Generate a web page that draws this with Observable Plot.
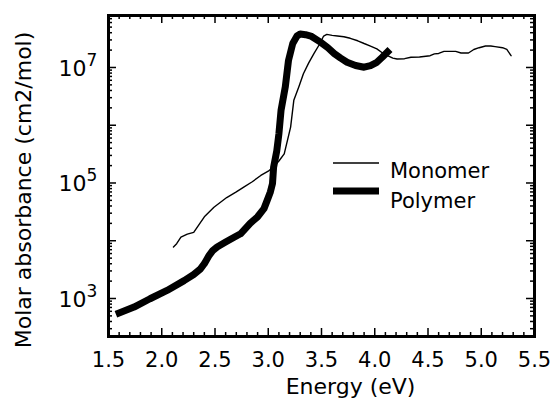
<!DOCTYPE html>
<html>
<head>
<meta charset="utf-8">
<script src="https://cdn.jsdelivr.net/npm/d3@7"></script>
<script src="https://cdn.jsdelivr.net/npm/@observablehq/plot@0.6"></script>
<style>
  body { margin: 0; background: #fff; }
  #chart { position: relative; width: 559px; height: 399px; font-family: "DejaVu Sans", sans-serif; }
  #chart svg { display: block; }
  #legend { position: absolute; left: 0; top: 0; pointer-events: none; }
</style>
</head>
<body>
<div id="chart"></div>
<script>
// Absorption spectra: energy (eV) against molar absorbance (cm2/mol)
const monomerEnergy = [2.11, 2.14, 2.18, 2.24, 2.30, 2.35, 2.40, 2.49, 2.61, 2.70, 2.77, 2.85, 2.93, 3.00, 3.05, 3.10, 3.15, 3.21, 3.24, 3.29, 3.33, 3.38, 3.43, 3.48, 3.52, 3.55, 3.60, 3.65, 3.71, 3.77, 3.84, 3.90, 3.96, 4.02, 4.07, 4.12, 4.17, 4.21, 4.28, 4.34, 4.42, 4.52, 4.56, 4.60, 4.65, 4.70, 4.76, 4.81, 4.88, 4.93, 4.98, 5.04, 5.09, 5.13, 5.20, 5.24, 5.28];
const monomerAbsorbance = [7.8e3, 8.9e3, 1.15e4, 1.3e4, 1.4e4, 1.9e4, 2.6e4, 3.8e4, 5.6e4, 7.0e4, 8.5e4, 1.05e5, 1.35e5, 1.6e5, 1.9e5, 2.4e5, 3.2e5, 9.3e5, 2.7e6, 4.8e6, 7.8e6, 1.2e7, 1.75e7, 2.5e7, 3.5e7, 3.75e7, 3.6e7, 3.5e7, 3.4e7, 3.2e7, 2.9e7, 2.6e7, 2.35e7, 2.1e7, 1.8e7, 1.6e7, 1.45e7, 1.4e7, 1.42e7, 1.5e7, 1.52e7, 1.6e7, 1.72e7, 1.75e7, 1.9e7, 1.9e7, 1.9e7, 1.78e7, 1.78e7, 2.05e7, 2.2e7, 2.35e7, 2.35e7, 2.3e7, 2.2e7, 2.05e7, 1.6e7];

const polymerEnergy = [1.60, 1.74, 1.89, 2.05, 2.21, 2.30, 2.36, 2.40, 2.44, 2.48, 2.52, 2.60, 2.68, 2.74, 2.83, 2.90, 2.96, 2.99, 3.02, 3.04, 3.05, 3.08, 3.10, 3.12, 3.16, 3.19, 3.23, 3.27, 3.30, 3.35, 3.40, 3.49, 3.56, 3.62, 3.68, 3.74, 3.82, 3.90, 3.96, 4.02, 4.07, 4.12];
const polymerAbsorbance = [5.6e2, 7.1e2, 9.9e2, 1.38e3, 2.04e3, 2.6e3, 3.2e3, 4.0e3, 5.4e3, 6.8e3, 7.8e3, 9.5e3, 1.15e4, 1.32e4, 2.0e4, 2.6e4, 3.6e4, 5.0e4, 7.0e4, 9.8e4, 1.86e5, 3.6e5, 7.1e5, 1.8e6, 4.6e6, 1.32e7, 2.6e7, 3.5e7, 3.8e7, 3.7e7, 3.5e7, 2.75e7, 2.2e7, 1.74e7, 1.45e7, 1.23e7, 1.08e7, 1.01e7, 1.08e7, 1.23e7, 1.5e7, 1.86e7];

const seriesNames = ["Monomer", "Polymer"];
const xTickLabels = ["1.5", "2.0", "2.5", "3.0", "3.5", "4.0", "4.5", "5.0", "5.5"];
const yLabelExponents = [3, 5, 7];
const xTitle = "Energy (eV)";
const yTitle = "Molar absorbance (cm2/mol)";

const width = 559, height = 399;
const marginLeft = 108, marginRight = 25, marginTop = 15, marginBottom = 63;
const innerW = width - marginLeft - marginRight;
const innerH = height - marginTop - marginBottom;
const yDomain = [10 ** 2.342, 10 ** 7.9];

const monomer = monomerEnergy.map((e, i) => ({energy: e, absorbance: monomerAbsorbance[i]}));
const polymer = polymerEnergy.map((e, i) => ({energy: e, absorbance: polymerAbsorbance[i]}));

// tick positions
const xMajor = xTickLabels.map(Number);
const xMinor = d3.range(15, 56).filter(i => i % 5 !== 0).map(i => i / 10);
const yMajor = d3.range(2, 9).map(e => 10 ** e).filter(v => v >= yDomain[0] && v <= yDomain[1]);
const yMinor = d3.range(2, 8).flatMap(e => d3.range(2, 10).map(m => m * 10 ** e))
  .filter(v => v >= yDomain[0] && v <= yDomain[1]);

const majorLen = 8, minorLen = 4;
const fontSize = 21;

const chart = Plot.plot({
  width, height, marginLeft, marginRight, marginTop, marginBottom,
  style: {fontFamily: '"DejaVu Sans", sans-serif', background: "#fff", color: "#000"},
  x: {domain: [1.5, 5.5], axis: null},
  y: {type: "log", domain: yDomain, axis: null},
  marks: [
    Plot.line(monomer, {x: "energy", y: "absorbance", stroke: "#000", strokeWidth: 1.4, strokeLinejoin: "round"}),
    Plot.line(polymer, {x: "energy", y: "absorbance", stroke: "#000", strokeWidth: 7, strokeLinejoin: "round", strokeLinecap: "square"}),
    // inward ticks on all four sides
    Plot.tickX(xMajor, {x: d => d, insetTop: innerH - majorLen, strokeWidth: 1.5}),
    Plot.tickX(xMajor, {x: d => d, insetBottom: innerH - majorLen, strokeWidth: 1.5}),
    Plot.tickX(xMinor, {x: d => d, insetTop: innerH - minorLen, strokeWidth: 1.5}),
    Plot.tickX(xMinor, {x: d => d, insetBottom: innerH - minorLen, strokeWidth: 1.5}),
    Plot.tickY(yMajor, {y: d => d, insetRight: innerW - majorLen, strokeWidth: 1.5}),
    Plot.tickY(yMajor, {y: d => d, insetLeft: innerW - majorLen, strokeWidth: 1.5}),
    Plot.tickY(yMinor, {y: d => d, insetRight: innerW - minorLen, strokeWidth: 1.5}),
    Plot.tickY(yMinor, {y: d => d, insetLeft: innerW - minorLen, strokeWidth: 1.5}),
    Plot.frame({stroke: "#000", strokeWidth: 3}),
    // x tick labels
    Plot.text(xTickLabels, {x: d => +d, text: d => d, frameAnchor: "bottom", lineAnchor: "middle", textAnchor: "middle", dy: 24, fontSize, fill: "#000"}),
    // y tick labels as 10 with a raised exponent
    Plot.text(yLabelExponents, {y: e => 10 ** e, text: () => "10", frameAnchor: "left", lineAnchor: "middle", textAnchor: "end", dx: -22, dy: 1, fontSize: 22, fill: "#000"}),
    Plot.text(yLabelExponents, {y: e => 10 ** e, text: e => String(e), frameAnchor: "left", lineAnchor: "middle", textAnchor: "start", dx: -22, dy: -7, fontSize: 17, fill: "#000"}),
    // axis titles
    Plot.text([xTitle], {frameAnchor: "bottom", lineAnchor: "middle", textAnchor: "middle", dx: 29, dy: 50, fontSize: 22, fill: "#000"}),
    Plot.text([yTitle], {frameAnchor: "left", lineAnchor: "middle", textAnchor: "middle", rotate: -90, dx: -85, dy: 14, fontSize: 22, fill: "#000"})
  ]
});

const root = document.getElementById("chart");
root.appendChild(chart);

// legend overlay
const ns = "http://www.w3.org/2000/svg";
const legend = document.createElementNS(ns, "svg");
legend.setAttribute("id", "legend");
legend.setAttribute("width", width);
legend.setAttribute("height", height);
const entries = [
  {name: seriesNames[0], w: 1.4, y: 163, ty: 178},
  {name: seriesNames[1], w: 7, y: 191, ty: 208}
];
for (const d of entries) {
  const line = document.createElementNS(ns, "line");
  line.setAttribute("x1", 333); line.setAttribute("x2", 379);
  line.setAttribute("y1", d.y); line.setAttribute("y2", d.y);
  line.setAttribute("stroke", "#000"); line.setAttribute("stroke-width", d.w);
  legend.appendChild(line);
  const t = document.createElementNS(ns, "text");
  t.setAttribute("x", 390); t.setAttribute("y", d.ty);
  t.setAttribute("font-size", 21);
  t.setAttribute("font-family", '"DejaVu Sans", sans-serif');
  t.textContent = d.name;
  legend.appendChild(t);
}
root.appendChild(legend);
</script>
</body>
</html>
